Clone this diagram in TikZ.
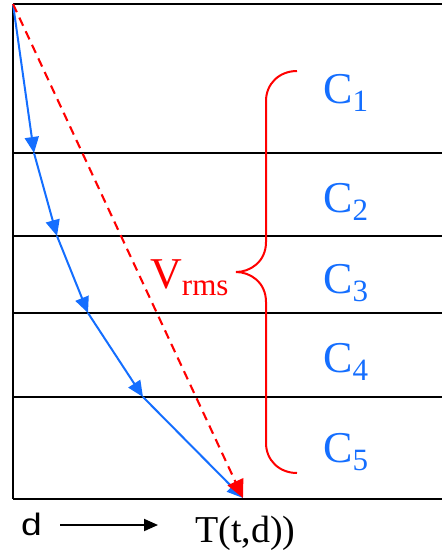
\documentclass[tikz,border=0pt]{standalone}
\usepackage{fontspec}
\setmainfont{Liberation Serif}
\newfontfamily\timesfont{Liberation Serif}
\newfontfamily\arialfont{Liberation Sans}
\usetikzlibrary{arrows.meta}
\definecolor{rayblue}{RGB}{20,110,255}
\tikzset{
  layer/.style={draw=black,line width=2.1pt},
  ray/.style={draw=rayblue,line width=2pt,-{Triangle[length=16pt,width=14pt]}},
  rms/.style={draw=red,line width=2.1pt,dash pattern=on 9pt off 6pt,-{Triangle[length=18pt,width=17pt]}},
  brace/.style={draw=red,line width=2pt},
  lbl/.style={inner sep=0pt,anchor=base west,font=\timesfont},
  axis/.style={draw=black,line width=1.9pt,-{Triangle[length=14pt,width=12pt]}}
}
\newcommand{\layerlbl}[1]{{\fontsize{44}{44}\selectfont C}\raisebox{-8pt}{\fontsize{31}{31}\selectfont #1}}
\begin{document}
\begin{tikzpicture}[x=1pt,y=-1pt]
\useasboundingbox (0,0) rectangle (442,552);
% layers
\coordinate (tl) at (13,4);
\coordinate (bl) at (13,499);
\draw[layer] (tl) -- (442,4);
\draw[layer] (tl) -- (bl);
\foreach \yy in {153,236,313,397}{\draw[layer] (13,\yy) -- (442,\yy);}
\draw[layer] (bl) -- (442,499);
% ray path
\coordinate (p0) at (13,4);
\coordinate (p1) at (34,153);
\coordinate (p2) at (57,236);
\coordinate (p3) at (88,313);
\coordinate (p4) at (143,397);
\coordinate (p5) at (243,498);
\draw[ray] (p0) -- (p1);
\draw[ray] (p1) -- (p2);
\draw[ray] (p2) -- (p3);
\draw[ray] (p3) -- (p4);
\draw[ray] (p4) -- (p5);
% rms straight ray
\draw[rms] (p0) -- (p5);
% brace
\coordinate (bt) at (297,71);
\coordinate (bm) at (236,272);
\coordinate (bb) at (297,473);
\draw[brace] (bt) .. controls (279,71) and (266,84) .. (266,101)
  -- (266,242) .. controls (266,262) and (250,272) .. (bm)
  .. controls (250,272) and (266,282) .. (266,302)
  -- (266,443) .. controls (266,460) and (279,473) .. (bb);
% labels
\node[lbl,text=red] (vrms) at (150,288) {{\fontsize{44}{44}\selectfont V}\raisebox{-7pt}{\fontsize{31}{31}\selectfont rms}};
\node[lbl,text=rayblue] (c1) at (323,103) {\layerlbl{1}};
\node[lbl,text=rayblue] (c2) at (323,212) {\layerlbl{2}};
\node[lbl,text=rayblue] (c3) at (323,293) {\layerlbl{3}};
\node[lbl,text=rayblue] (c4) at (323,372) {\layerlbl{4}};
\node[lbl,text=rayblue] (c5) at (323,462) {\layerlbl{5}};
\node[lbl,font=\arialfont] (d) at (21,535) {\scalebox{1.2}[1]{\fontsize{31}{31}\selectfont d}};
\coordinate (a0) at (60,525);
\coordinate (a1) at (158,525);
\draw[axis] (a0) -- (a1);
\node[lbl] (T) at (195,542) {\fontsize{38}{38}\selectfont T(t,d))};
\end{tikzpicture}
\end{document}
